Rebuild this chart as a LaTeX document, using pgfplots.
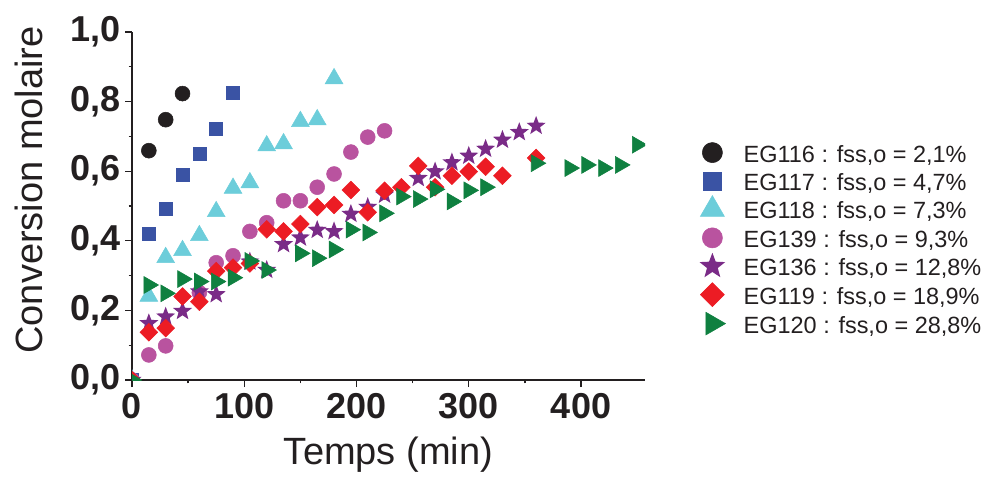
\documentclass[border=0pt]{standalone}
\usepackage{pgfplots}
\pgfplotsset{compat=1.18}
\usepackage{fontspec}
\setmainfont{Liberation Sans}
\definecolor{cBlack}{HTML}{231F20}
\definecolor{cBlue}{HTML}{3A53A4}
\definecolor{cCyan}{HTML}{6CCDDA}
\definecolor{cMag}{HTML}{B9539F}
\definecolor{cPur}{HTML}{7A2B87}
\definecolor{cRed}{HTML}{EC1C24}
\definecolor{cGreen}{HTML}{0F8040}
\pgfdeclareplotmark{fstar}{%
  \pgfpathmoveto{\pgfpointpolar{90}{\pgfplotmarksize}}%
  \pgfpathlineto{\pgfpointpolar{126}{0.42\pgfplotmarksize}}%
  \pgfpathlineto{\pgfpointpolar{162}{\pgfplotmarksize}}%
  \pgfpathlineto{\pgfpointpolar{198}{0.42\pgfplotmarksize}}%
  \pgfpathlineto{\pgfpointpolar{234}{\pgfplotmarksize}}%
  \pgfpathlineto{\pgfpointpolar{270}{0.42\pgfplotmarksize}}%
  \pgfpathlineto{\pgfpointpolar{306}{\pgfplotmarksize}}%
  \pgfpathlineto{\pgfpointpolar{342}{0.42\pgfplotmarksize}}%
  \pgfpathlineto{\pgfpointpolar{18}{\pgfplotmarksize}}%
  \pgfpathlineto{\pgfpointpolar{54}{0.42\pgfplotmarksize}}%
  \pgfpathclose
  \pgfusepathqfill
}
\begin{document}
\begin{tikzpicture}
\useasboundingbox (0,0) rectangle (739.5pt,-357.75pt);
\begin{axis}[
  at={(99pt,-285pt)}, anchor=south west,
  scale only axis, width=384.75pt, height=261pt,
  xmin=0, xmax=457, ymin=0, ymax=1,
  axis x line*=bottom, axis y line*=left,
  axis line style={line width=1.1pt, color=cBlack},
  xtick={0,100,200,300,400}, minor x tick num=1,
  ytick={0,0.2,0.4,0.6,0.8,1.0}, minor y tick num=1,
  tick align=outside, major tick length=5.25pt, minor tick length=2.6pt,
  every tick/.style={line width=1pt, color=cBlack},
  /pgf/number format/assume math mode=true,
  ticklabel style={font=\fontsize{27}{27}\selectfont\bfseries, text=cBlack},
  xticklabel style={yshift=-1.5pt},
  yticklabel style={/pgf/number format/.cd, fixed, fixed zerofill, precision=1, use comma},
  xlabel={Temps (min)}, ylabel={Conversion molaire},
  xlabel style={at={(axis description cs:0.5,-0.215)}, anchor=center, font=\fontsize{28.5}{28.5}\selectfont, text=cBlack},
  ylabel style={at={(axis description cs:-0.2,0.546)}, anchor=center, font=\fontsize{28.5}{28.5}\selectfont, text=cBlack},
  clip marker paths=true,
  legend style={at={(axis description cs:1.098,0.706)}, anchor=north west, draw=none, fill=none,
    font=\fontsize{17.6}{17.6}\selectfont, text=cBlack, row sep=1.2pt, column sep=0pt,
    nodes={inner sep=0pt}},
  legend cell align=left,
  legend image code/.code={\path[draw=none,fill=none] (-8pt,-4pt) rectangle (23.5pt,13pt); \draw[#1, every mark/.append style={scale=1.35}] plot[only marks] coordinates {(0pt,1.5pt)};},
]
\addplot[only marks, color=cBlack, mark=*, mark size=5.6pt] coordinates {
(0,0) (15,0.659) (30,0.748) (45,0.823)};
\addlegendentry{EG116 : fss,o = 2,1\%}
\addplot[only marks, color=cBlue, mark=square*, mark size=4.9pt] coordinates {
(0,0) (15,0.419) (30,0.491) (45,0.590) (60,0.651) (75,0.723) (90,0.825)};
\addlegendentry{EG117 : fss,o = 4,7\%}
\addplot[only marks, color=cCyan, mark=triangle*, mark size=7.7pt] coordinates {
(0,0) (15,0.241) (30,0.352) (45,0.372) (60,0.415) (75,0.484) (90,0.551) (105,0.567) (120,0.673) (135,0.679) (150,0.743) (165,0.748) (180,0.866)};
\addlegendentry{EG118 : fss,o = 7,3\%}
\addplot[only marks, color=cMag, mark=*, mark size=5.6pt] coordinates {
(0,0) (15,0.072) (30,0.098) (60,0.251) (75,0.337) (90,0.357) (105,0.427) (120,0.452) (135,0.515) (150,0.515) (165,0.554) (180,0.592) (195,0.655) (210,0.698) (225,0.716)};
\addlegendentry{EG139 : fss,o = 9,3\%}
\addplot[only marks, color=cPur, mark=fstar, mark size=7.5pt] coordinates {
(0,0) (15,0.163) (30,0.182) (45,0.198) (60,0.254) (75,0.246) (105,0.34) (120,0.316) (135,0.39) (150,0.409) (165,0.431) (180,0.427) (195,0.477) (210,0.497) (225,0.532) (255,0.58) (270,0.599) (285,0.625) (300,0.644) (315,0.664) (330,0.69) (345,0.712) (360,0.73)};
\addlegendentry{EG136 : fss,o = 12,8\%}
\addplot[only marks, color=cRed, mark=square*, mark size=4.7pt, mark options={rotate=45}] coordinates {
(0,0) (15,0.137) (30,0.149) (45,0.24) (60,0.225) (75,0.313) (90,0.323) (105,0.335) (120,0.433) (135,0.427) (150,0.448) (165,0.497) (180,0.503) (195,0.546) (210,0.482) (225,0.544) (240,0.554) (255,0.615) (270,0.554) (285,0.587) (300,0.599) (315,0.613) (330,0.587) (360,0.638)};
\addlegendentry{EG119 : fss,o = 18,9\%}
\addplot[only marks, color=cGreen, mark=triangle*, mark size=7.3pt, mark options={rotate=-90}] coordinates {
(0,0) (15,0.273) (30,0.249) (45,0.29) (60,0.283) (75,0.283) (90,0.294) (105,0.342) (120,0.316) (150,0.364) (165,0.35) (180,0.375) (195,0.432) (210,0.424) (225,0.479) (240,0.527) (255,0.52) (270,0.548) (285,0.513) (300,0.545) (315,0.554) (360,0.623) (390,0.609) (405,0.618) (420,0.609) (435,0.618) (450,0.676)};
\addlegendentry{EG120 : fss,o = 28,8\%}
\end{axis}
\end{tikzpicture}
\end{document}
